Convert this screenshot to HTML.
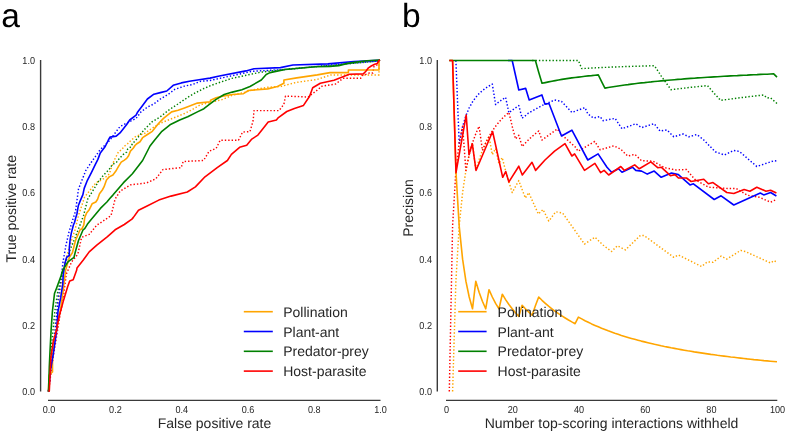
<!DOCTYPE html>
<html><head><meta charset="utf-8"><title>Figure</title>
<style>
html,body{margin:0;padding:0;background:#fff;}
body{width:787px;height:434px;overflow:hidden;}
svg{display:block;font-family:"Liberation Sans",sans-serif;will-change:transform;text-rendering:geometricPrecision;}
</style></head><body>
<svg width="787" height="434" viewBox="0 0 787 434">
<text x="1.2" y="27" font-size="33.5" fill="#000">a</text>
<text x="402" y="27" font-size="33.5" fill="#000">b</text>
<line x1="40.6" y1="60" x2="40.6" y2="391.5" stroke="#3a3a3a" stroke-width="1.4"/>
<line x1="48" y1="400.4" x2="380.5" y2="400.4" stroke="#3a3a3a" stroke-width="1.4"/>
<line x1="437.3" y1="60" x2="437.3" y2="391.5" stroke="#3a3a3a" stroke-width="1.4"/>
<line x1="446" y1="400.4" x2="777.3" y2="400.4" stroke="#3a3a3a" stroke-width="1.4"/>
<text transform="translate(35.00,395.10) scale(0.9,1)" font-size="10.1" fill="#262626" text-anchor="end">0.0</text>
<text transform="translate(432.00,395.10) scale(0.9,1)" font-size="10.1" fill="#262626" text-anchor="end">0.0</text>
<text transform="translate(49.10,413.00) scale(0.9,1)" font-size="10.1" fill="#262626" text-anchor="middle">0.0</text>
<text transform="translate(35.00,328.80) scale(0.9,1)" font-size="10.1" fill="#262626" text-anchor="end">0.2</text>
<text transform="translate(432.00,328.80) scale(0.9,1)" font-size="10.1" fill="#262626" text-anchor="end">0.2</text>
<text transform="translate(115.40,413.00) scale(0.9,1)" font-size="10.1" fill="#262626" text-anchor="middle">0.2</text>
<text transform="translate(35.00,262.50) scale(0.9,1)" font-size="10.1" fill="#262626" text-anchor="end">0.4</text>
<text transform="translate(432.00,262.50) scale(0.9,1)" font-size="10.1" fill="#262626" text-anchor="end">0.4</text>
<text transform="translate(181.70,413.00) scale(0.9,1)" font-size="10.1" fill="#262626" text-anchor="middle">0.4</text>
<text transform="translate(35.00,196.20) scale(0.9,1)" font-size="10.1" fill="#262626" text-anchor="end">0.6</text>
<text transform="translate(432.00,196.20) scale(0.9,1)" font-size="10.1" fill="#262626" text-anchor="end">0.6</text>
<text transform="translate(248.00,413.00) scale(0.9,1)" font-size="10.1" fill="#262626" text-anchor="middle">0.6</text>
<text transform="translate(35.00,129.90) scale(0.9,1)" font-size="10.1" fill="#262626" text-anchor="end">0.8</text>
<text transform="translate(432.00,129.90) scale(0.9,1)" font-size="10.1" fill="#262626" text-anchor="end">0.8</text>
<text transform="translate(314.30,413.00) scale(0.9,1)" font-size="10.1" fill="#262626" text-anchor="middle">0.8</text>
<text transform="translate(35.00,63.60) scale(0.9,1)" font-size="10.1" fill="#262626" text-anchor="end">1.0</text>
<text transform="translate(432.00,63.60) scale(0.9,1)" font-size="10.1" fill="#262626" text-anchor="end">1.0</text>
<text transform="translate(380.60,413.00) scale(0.9,1)" font-size="10.1" fill="#262626" text-anchor="middle">1.0</text>
<text transform="translate(446.60,413.00) scale(0.9,1)" font-size="10.1" fill="#262626" text-anchor="middle">0</text>
<text transform="translate(512.80,413.00) scale(0.9,1)" font-size="10.1" fill="#262626" text-anchor="middle">20</text>
<text transform="translate(579.00,413.00) scale(0.9,1)" font-size="10.1" fill="#262626" text-anchor="middle">40</text>
<text transform="translate(645.20,413.00) scale(0.9,1)" font-size="10.1" fill="#262626" text-anchor="middle">60</text>
<text transform="translate(711.40,413.00) scale(0.9,1)" font-size="10.1" fill="#262626" text-anchor="middle">80</text>
<text transform="translate(777.60,413.00) scale(0.9,1)" font-size="10.1" fill="#262626" text-anchor="middle">100</text>
<text x="214.5" y="428.2" font-size="14" fill="#262626" text-anchor="middle">False positive rate</text>
<text x="611.5" y="428.2" font-size="14" fill="#262626" text-anchor="middle">Number top-scoring interactions withheld</text>
<text transform="translate(15.9,208.8) rotate(-90)" font-size="14" fill="#262626" text-anchor="middle">True positive rate</text>
<text transform="translate(413,208) rotate(-90)" font-size="14" fill="#262626" text-anchor="middle">Precision</text>
<polyline points="48.5,391.5 52.0,365.0 55.0,335.0 58.0,305.0 62.0,280.0 65.0,262.0 70.0,245.0 75.0,230.0 78.5,215.4 84.6,197.1 95.8,182.9 103.7,178.7 109.2,174.1 113.8,161.2 118.4,152.0 122.1,149.2 124.0,146.5 127.6,143.7 130.4,140.9 136.1,136.1 144.2,133.7 152.3,128.1 160.3,123.2 168.4,120.0 176.5,116.8 184.5,113.5 191.0,110.3 200.6,104.7 209.7,102.6 222.6,99.4 232.3,95.3 245.2,92.1 253.2,89.7 267.7,87.3 280.6,86.5 295.9,82.5 317.3,79.4 331.0,74.9 379.0,74.9 379.0,60.4 380.0,60.0" fill="none" stroke="#ffa500" stroke-width="1.45" stroke-linejoin="round" stroke-dasharray="1.4,2.0"/>
<polyline points="48.5,391.5 52.0,360.0 55.0,330.0 58.0,300.0 61.0,280.0 63.0,262.0 66.0,245.0 69.0,232.0 72.0,222.0 75.5,211.3 78.5,189.0 85.7,170.7 91.8,161.5 100.0,150.0 110.0,140.0 120.0,126.5 129.7,121.6 136.1,118.4 141.0,111.9 147.4,107.1 153.9,103.9 160.3,99.0 168.4,94.2 174.8,89.4 184.5,86.1 192.6,84.5 200.6,81.3 210.0,80.5 221.5,78.0 252.0,71.3 290.0,69.2 330.0,65.0 379.0,61.0 380.0,60.0" fill="none" stroke="#0000ff" stroke-width="1.45" stroke-linejoin="round" stroke-dasharray="1.4,2.0"/>
<polyline points="48.5,391.5 50.0,370.0 52.0,340.0 55.0,310.0 58.0,290.0 62.0,275.0 66.0,262.0 70.0,250.0 75.0,238.0 80.0,225.0 83.6,215.4 87.7,199.1 98.9,180.8 103.7,175.0 109.2,169.5 112.0,164.9 116.6,162.1 119.4,158.4 123.0,154.7 126.7,152.0 127.6,149.2 131.3,146.5 132.3,143.7 135.9,140.0 137.7,137.7 144.2,129.7 152.3,121.6 160.3,116.8 168.4,110.3 178.1,103.9 187.7,97.4 195.8,92.6 203.9,88.5 211.3,85.3 231.6,78.4 260.1,72.3 290.0,68.8 330.0,65.5 379.0,61.0 380.0,60.0" fill="none" stroke="#008000" stroke-width="1.45" stroke-linejoin="round" stroke-dasharray="1.4,2.0"/>
<polyline points="48.5,391.5 52.0,365.0 56.0,340.0 60.0,315.0 63.0,300.0 66.3,274.0 71.7,261.8 77.8,254.2 81.6,237.4 89.2,234.4 96.8,225.2 106.0,219.1 111.1,215.4 115.1,199.1 120.2,191.0 130.4,184.9 146.6,182.9 155.8,178.8 162.9,169.6 181.2,167.6 183.2,161.5 203.6,160.5 209.1,151.3 216.2,148.3 220.2,140.2 238.5,140.2 242.6,132.0 250.0,131.6 253.2,120.3 254.0,110.6 279.0,110.6 283.9,104.2 285.5,96.1 308.1,97.0 317.3,90.1 321.8,86.3 335.6,84.0 343.1,78.3 360.6,78.3 362.4,75.6 369.4,73.0 372.9,73.0 373.8,66.9 377.0,65.0 379.0,61.1 380.0,60.0" fill="none" stroke="#ff0000" stroke-width="1.45" stroke-linejoin="round" stroke-dasharray="1.4,2.0"/>
<polyline points="48.5,391.5 49.0,375.0 52.5,372.0 52.5,357.0 54.5,341.0 56.6,330.0 58.5,318.0 60.7,308.7 63.0,292.0 65.6,270.0 66.3,267.9 69.4,257.3 72.4,252.7 75.5,240.5 80.1,229.8 82.0,228.7 83.8,225.0 84.7,217.6 86.6,213.0 89.4,209.4 92.1,203.8 95.8,202.0 97.6,199.2 99.5,193.7 102.3,190.0 104.0,186.9 106.5,180.0 109.2,176.9 112.9,175.0 115.7,171.3 118.4,166.7 121.2,162.1 124.0,160.3 126.7,158.4 128.6,155.7 130.4,151.1 133.2,148.3 135.0,145.5 136.9,143.7 140.0,141.8 142.6,137.7 147.4,134.5 152.3,131.3 158.7,123.2 163.5,118.4 171.6,111.9 178.1,110.3 184.5,107.9 191.0,105.5 197.4,103.1 210.5,101.8 210.5,100.2 216.1,97.7 222.6,96.1 232.3,94.5 243.5,93.7 248.4,90.5 267.7,88.9 277.4,86.5 283.9,83.2 283.9,80.0 296.7,77.9 317.3,74.9 330.0,72.6 348.4,72.6 348.4,70.0 379.0,70.0 379.0,60.4 380.0,60.0" fill="none" stroke="#ffa500" stroke-width="1.6" stroke-linejoin="round"/>
<polyline points="48.5,391.5 50.5,370.0 53.3,354.0 56.5,331.5 58.0,311.5 60.7,297.7 62.8,283.8 63.2,275.0 65.0,263.0 66.7,257.2 69.3,255.5 69.3,248.0 70.1,240.0 71.3,233.1 73.4,225.0 74.6,222.3 75.5,218.6 76.9,214.0 78.3,205.7 80.1,201.1 82.9,194.6 84.2,188.4 87.4,180.3 91.5,172.3 95.5,164.2 97.9,159.4 100.3,152.9 105.2,146.5 108.4,140.0 110.0,137.1 116.2,136.1 120.0,132.9 126.5,124.8 129.7,120.0 136.1,115.2 137.7,111.9 142.6,105.5 147.4,99.0 153.9,94.2 160.3,92.6 166.8,91.0 173.2,85.3 181.3,82.9 189.4,81.3 199.0,79.7 210.0,78.1 219.4,76.0 245.9,70.9 254.0,68.8 280.4,67.6 292.9,65.0 327.9,63.9 353.9,61.5 379.0,60.4 380.0,60.0" fill="none" stroke="#0000ff" stroke-width="1.6" stroke-linejoin="round"/>
<polyline points="48.5,391.5 49.3,367.0 50.1,349.2 51.1,330.0 52.4,311.5 54.5,293.5 56.6,288.0 61.0,276.0 62.8,270.0 67.9,261.8 74.0,257.3 75.5,251.2 78.5,240.5 83.1,229.8 84.7,228.7 87.5,224.1 91.2,219.5 95.8,214.0 100.4,208.4 106.9,202.0 110.0,198.3 112.9,195.1 123.3,182.9 132.4,173.7 142.6,160.5 150.0,146.0 154.7,140.0 161.9,131.3 170.0,124.8 179.7,120.0 187.7,116.8 197.4,111.9 203.9,108.7 209.7,104.2 216.1,99.4 224.2,94.5 232.3,92.1 241.9,89.7 250.0,86.5 261.3,80.0 266.2,74.5 270.0,72.6 285.2,69.5 315.7,66.8 330.0,66.4 338.8,65.6 347.5,63.4 356.3,62.1 366.8,60.8 380.0,60.0" fill="none" stroke="#008000" stroke-width="1.6" stroke-linejoin="round"/>
<polyline points="48.5,391.5 49.3,391.0 50.9,357.0 53.3,341.0 56.6,330.0 57.3,325.0 59.4,315.6 63.5,300.4 67.7,286.6 69.7,281.1 73.2,279.7 76.7,270.0 77.0,267.9 83.1,260.3 89.2,251.9 96.8,245.1 107.5,236.7 115.1,229.8 124.3,224.5 131.9,219.1 133.4,217.4 138.5,210.3 146.6,206.2 158.8,200.1 171.0,196.1 187.3,192.0 195.4,186.9 205.0,176.8 217.2,167.6 227.4,160.5 231.4,154.4 239.6,147.3 246.7,145.2 251.8,139.1 257.9,135.1 261.9,130.0 268.2,122.1 276.4,120.0 278.4,117.6 286.8,111.5 294.4,108.4 303.5,105.4 309.6,96.2 312.7,87.8 320.3,83.3 334.0,80.2 341.7,77.2 349.3,74.3 363.3,73.9 365.9,71.3 368.5,67.8 371.2,66.0 374.7,64.3 377.3,63.4 379.0,60.4 380.0,60.0" fill="none" stroke="#ff0000" stroke-width="1.6" stroke-linejoin="round"/>
<polyline points="452.6,391.5 455.9,281.0 459.2,225.8 462.6,192.6 465.9,170.5 469.2,154.7 472.5,142.9 475.8,170.5 479.1,159.5 482.4,150.4 485.7,142.9 489.0,136.5 492.3,154.7 495.6,148.4 498.9,163.6 502.2,157.5 505.5,170.5 508.9,182.0 512.2,192.6 515.5,186.5 518.8,180.6 522.1,189.5 525.4,198.1 528.7,192.6 538.4,214.1 543.0,209.5 548.8,221.1 555.7,211.8 562.6,213.0 584.5,244.1 594.9,237.2 603.0,245.0 607.0,248.0 611.6,251.5 617.4,245.7 625.4,249.9 640.4,235.4 643.9,235.4 673.8,257.3 678.4,255.0 701.5,266.5 707.3,261.9 713.0,262.3 721.1,256.1 726.8,259.1 740.7,250.4 745.3,251.5 770.6,263.0 774.1,260.7 776.9,262.3" fill="none" stroke="#ffa500" stroke-width="1.45" stroke-linejoin="round" stroke-dasharray="1.4,2.0"/>
<polyline points="455.9,60.5 459.2,143.3 462.6,126.7 465.9,115.7 469.2,107.8 472.5,101.9 475.8,97.3 479.1,93.6 482.4,90.6 485.7,88.1 489.0,86.0 492.3,84.1 495.6,104.6 499.0,101.9 502.3,99.5 505.6,97.3 508.9,112.8 512.2,110.2 515.5,107.8 518.8,105.6 522.1,118.1 525.4,115.7 528.5,113.0 542.1,105.5 554.6,100.0 561.5,101.4 571.9,112.4 585.0,107.6 587.8,113.8 593.3,118.0 600.2,116.6 603.0,120.7 615.1,118.4 622.0,128.8 635.8,123.7 641.6,127.6 654.2,123.7 660.0,131.0 666.9,129.9 673.8,136.8 683.1,134.0 688.8,136.8 696.9,134.5 703.8,140.0 715.3,151.8 724.5,155.0 733.8,150.4 739.5,151.5 756.8,166.5 774.1,160.7 777.0,161.0" fill="none" stroke="#0000ff" stroke-width="1.45" stroke-linejoin="round" stroke-dasharray="1.4,2.0"/>
<polyline points="532.1,60.5 535.4,60.5 538.7,60.5 542.0,60.5 545.3,60.5 548.6,60.5 551.9,60.5 555.2,60.5 558.5,60.5 561.9,60.5 565.2,60.5 568.5,60.5 571.8,60.5 575.1,60.5 578.4,60.5 581.7,68.6 585.0,68.4 588.3,68.2 591.6,68.0 595.0,67.9 598.3,67.7 601.6,67.5 604.9,67.4 608.2,67.3 611.5,67.1 614.8,67.0 618.1,66.9 621.4,66.7 624.7,66.6 628.0,66.5 631.4,66.4 634.7,66.3 638.0,66.2 641.3,66.1 644.6,66.0 647.9,65.9 651.2,65.8 654.5,65.8 657.8,70.8 661.1,75.8 664.5,80.6 667.8,85.2 671.1,89.7 674.4,89.3 677.7,88.9 681.0,88.5 684.3,88.1 687.6,87.7 690.9,87.3 694.2,87.0 697.6,86.6 700.9,86.3 704.2,86.0 707.5,85.6 710.8,89.5 714.1,93.2 717.4,96.8 720.7,100.4 724.0,99.9 727.4,99.5 730.7,99.0 734.0,98.6 737.3,98.1 740.6,97.7 743.9,97.3 747.2,96.9 750.5,96.5 753.8,96.1 757.1,95.7 760.5,95.4 763.8,95.0 767.1,98.0 770.4,97.7 773.7,100.6 777.0,103.5" fill="none" stroke="#008000" stroke-width="1.45" stroke-linejoin="round" stroke-dasharray="1.4,2.0"/>
<polyline points="449.3,391.5 452.6,225.8 455.9,170.5 459.2,142.9 462.6,126.3 465.9,170.5 469.2,154.7 472.5,142.9 475.8,133.7 479.1,126.3 482.4,150.4 485.7,142.9 489.0,136.5 492.3,131.0 495.6,126.3 498.9,122.2 502.2,118.5 505.5,115.3 508.9,112.4 512.2,126.3 515.5,138.9 518.8,135.3 522.1,146.5 525.4,142.9 528.7,139.6 532.0,136.5 535.4,133.7 538.7,131.0 542.0,140.0 557.3,129.0 561.5,134.6 575.3,147.0 578.1,151.2 594.7,141.5 600.2,149.8 613.9,145.8 620.8,149.2 627.7,156.1 634.7,154.3 641.6,160.7 653.1,161.2 664.6,167.7 676.1,170.0 686.5,169.5 694.6,179.2 708.4,187.2 726.8,188.4 736.1,188.4 747.6,195.3 759.1,197.2 770.6,202.2 776.4,199.5" fill="none" stroke="#ff0000" stroke-width="1.45" stroke-linejoin="round" stroke-dasharray="1.4,2.0"/>
<polyline points="449.3,60.5 452.6,60.5 455.9,170.9 459.2,226.1 462.6,259.2 465.9,281.2 469.2,297.0 472.5,308.8 475.8,281.2 479.1,292.3 482.4,301.3 485.7,308.8 489.0,289.7 492.3,297.0 495.6,303.3 499.0,308.8 502.3,294.2 505.6,299.6 508.9,304.5 512.2,308.8 515.5,312.8 518.8,316.4 522.1,305.2 525.4,308.8 528.8,312.1 532.1,315.2 535.4,305.8 538.7,297.0 542.0,300.3 545.3,303.3 548.6,306.2 551.9,308.8 555.2,311.3 558.5,313.7 561.9,315.9 565.2,318.0 568.5,320.0 571.8,321.9 575.1,323.7 578.4,317.1 581.7,318.9 585.0,320.7 588.3,322.3 591.6,323.9 595.0,325.4 598.3,326.8 601.6,328.2 604.9,329.5 608.2,330.8 611.5,332.0 614.8,333.2 618.1,334.3 621.4,335.4 624.7,336.4 628.0,337.4 631.4,338.4 634.7,339.3 638.0,340.2 641.3,341.1 644.6,341.9 647.9,342.7 651.2,343.5 654.5,344.3 657.8,345.0 661.1,345.8 664.5,346.5 667.8,347.1 671.1,347.8 674.4,348.4 677.7,349.0 681.0,349.6 684.3,350.2 687.6,350.8 690.9,351.3 694.2,351.9 697.6,352.4 700.9,352.9 704.2,353.4 707.5,353.9 710.8,354.4 714.1,354.8 717.4,355.3 720.7,355.7 724.0,356.1 727.4,356.5 730.7,357.0 734.0,357.3 737.3,357.7 740.6,358.1 743.9,358.5 747.2,358.9 750.5,359.2 753.8,359.6 757.1,359.9 760.5,360.2 763.8,360.6 767.1,360.9 770.4,361.2 773.7,361.5 777.0,361.8" fill="none" stroke="#ffa500" stroke-width="1.6" stroke-linejoin="round"/>
<polyline points="508.0,60.5 512.2,60.5 518.8,90.0 525.7,88.4 529.2,99.9 541.9,94.9 544.9,104.1 549.0,103.5 561.5,136.0 571.9,130.2 587.8,160.0 598.1,153.9 607.0,167.2 611.6,172.3 618.5,168.8 622.0,172.3 632.4,167.2 635.8,170.4 641.6,171.1 647.3,174.1 654.2,171.1 661.2,177.3 671.5,173.0 678.4,174.6 690.0,184.9 693.4,183.8 714.2,199.5 721.1,195.8 733.8,205.0 760.3,193.0 763.7,194.9 770.6,192.5 776.4,196.0" fill="none" stroke="#0000ff" stroke-width="1.6" stroke-linejoin="round"/>
<polyline points="449.3,60.5 452.6,60.5 455.9,60.5 459.2,60.5 462.6,60.5 465.9,60.5 469.2,60.5 472.5,60.5 475.8,60.5 479.1,60.5 482.4,60.5 485.7,60.5 489.0,60.5 492.3,60.5 495.6,60.5 499.0,60.5 502.3,60.5 505.6,60.5 508.9,60.5 512.2,60.5 515.5,60.5 518.8,60.5 522.1,60.5 525.4,60.5 528.8,60.5 532.1,60.5 535.4,60.5 538.7,72.3 542.0,83.3 545.3,82.6 548.6,81.9 551.9,81.2 555.2,80.6 558.5,80.0 561.9,79.4 565.2,78.9 568.5,78.4 571.8,77.9 575.1,77.5 578.4,77.1 581.7,76.7 585.0,76.3 588.3,75.9 591.6,75.6 595.0,75.2 598.3,74.9 601.6,81.6 604.9,88.1 608.2,87.5 611.5,87.0 614.8,86.5 618.1,86.0 621.4,85.5 624.7,85.0 628.0,84.6 631.4,84.1 634.7,83.7 638.0,83.3 641.3,82.9 644.6,82.6 647.9,82.2 651.2,81.9 654.5,81.5 657.8,81.2 661.1,80.9 664.5,80.6 667.8,80.3 671.1,80.0 674.4,79.7 677.7,79.4 681.0,79.2 684.3,78.9 687.6,78.6 690.9,78.4 694.2,78.2 697.6,77.9 700.9,77.7 704.2,77.5 707.5,77.3 710.8,77.1 714.1,76.9 717.4,76.7 720.7,76.5 724.0,76.3 727.4,76.1 730.7,75.9 734.0,75.7 737.3,75.6 740.6,75.4 743.9,75.2 747.2,75.1 750.5,74.9 753.8,74.7 757.1,74.6 760.5,74.4 763.8,74.3 767.1,74.2 770.4,74.0 773.7,73.9 777.0,77.1" fill="none" stroke="#008000" stroke-width="1.6" stroke-linejoin="round"/>
<polyline points="449.3,60.5 452.6,60.5 456.0,172.5 466.2,115.0 469.0,154.8 472.3,143.7 476.0,170.5 492.6,131.5 502.7,177.3 505.7,171.5 508.9,181.9 518.8,166.2 522.3,175.0 532.0,162.3 535.6,170.4 545.0,160.0 554.6,151.2 565.0,143.6 571.9,156.0 574.6,153.9 584.5,170.4 594.9,163.4 600.6,172.7 604.1,170.4 608.7,175.0 620.8,166.5 624.3,170.4 634.7,164.9 639.3,168.8 650.8,161.9 657.7,167.7 661.2,167.2 670.4,175.7 675.0,174.6 678.4,178.0 686.5,178.0 691.1,181.5 703.8,179.2 708.4,183.8 713.0,182.6 726.8,192.5 733.8,193.5 744.1,189.6 749.9,191.2 756.8,187.2 766.0,191.2 770.6,190.2 776.4,193.0" fill="none" stroke="#ff0000" stroke-width="1.6" stroke-linejoin="round"/>
<line x1="243.8" y1="311.7" x2="272.8" y2="311.7" stroke="#ffa500" stroke-width="1.6"/>
<text x="283.2" y="316.7" font-size="14" fill="#262626">Pollination</text>
<line x1="243.8" y1="331.5" x2="272.8" y2="331.5" stroke="#0000ff" stroke-width="1.6"/>
<text x="283.2" y="336.5" font-size="14" fill="#262626">Plant-ant</text>
<line x1="243.8" y1="351.3" x2="272.8" y2="351.3" stroke="#008000" stroke-width="1.6"/>
<text x="283.2" y="356.3" font-size="14" fill="#262626">Predator-prey</text>
<line x1="243.8" y1="371.1" x2="272.8" y2="371.1" stroke="#ff0000" stroke-width="1.6"/>
<text x="283.2" y="376.1" font-size="14" fill="#262626">Host-parasite</text>
<line x1="458.2" y1="311.7" x2="486.6" y2="311.7" stroke="#ffa500" stroke-width="1.6"/>
<text x="497.6" y="316.7" font-size="14" fill="#262626">Pollination</text>
<line x1="458.2" y1="331.5" x2="486.6" y2="331.5" stroke="#0000ff" stroke-width="1.6"/>
<text x="497.6" y="336.5" font-size="14" fill="#262626">Plant-ant</text>
<line x1="458.2" y1="351.3" x2="486.6" y2="351.3" stroke="#008000" stroke-width="1.6"/>
<text x="497.6" y="356.3" font-size="14" fill="#262626">Predator-prey</text>
<line x1="458.2" y1="371.1" x2="486.6" y2="371.1" stroke="#ff0000" stroke-width="1.6"/>
<text x="497.6" y="376.1" font-size="14" fill="#262626">Host-parasite</text>
</svg>
</body></html>
